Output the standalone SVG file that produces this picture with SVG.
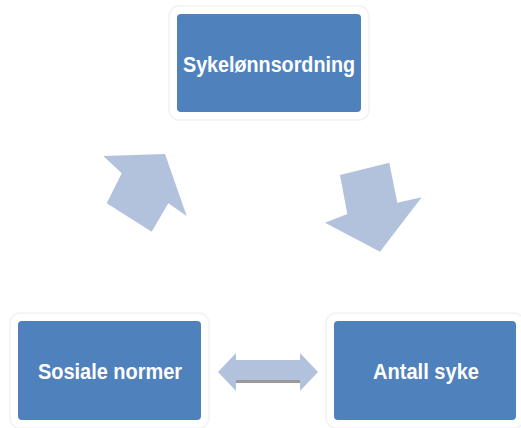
<svg xmlns="http://www.w3.org/2000/svg" width="521" height="428" viewBox="0 0 521 428">
<style>
.halo{fill:#ffffff;stroke:#f2f2f2;stroke-width:1.5}
.box{fill:#4f81bd}
.lbl{font-family:"Liberation Sans",Arial,sans-serif;font-weight:bold;font-size:22px;fill:#ffffff;text-anchor:middle}
.arr{fill:#b3c2dc}
</style>
<rect width="521" height="428" fill="#ffffff"/>
<g id="node-sykelonn">
<rect class="halo" x="169" y="6" width="200" height="114" rx="10"/>
<rect class="box" x="177" y="14" width="184" height="98" rx="4"/>
<text class="lbl" x="269" y="72" textLength="172" lengthAdjust="spacingAndGlyphs">Sykelønnsordning</text>
</g>
<g id="node-sosiale">
<rect class="halo" x="10" y="313" width="199" height="115" rx="10"/>
<rect class="box" x="18" y="321" width="183" height="99" rx="4"/>
<text class="lbl" x="110" y="379" textLength="144" lengthAdjust="spacingAndGlyphs">Sosiale normer</text>
</g>
<g id="node-antall">
<rect class="halo" x="326" y="313" width="198" height="115" rx="10"/>
<rect class="box" x="334" y="321" width="182" height="99" rx="4"/>
<text class="lbl" x="426" y="379" textLength="106" lengthAdjust="spacingAndGlyphs">Antall syke</text>
</g>
<g id="connectors">
<polygon class="arr" points="103.3,156 165,154 186.7,216 168.3,203.3 151.7,231.7 106.7,203.3 121.7,173.3"/>
<polygon class="arr" points="340,175 389.3,162.7 397.3,202.7 421.7,197.3 380,251.7 325,222.7 347.3,214"/>
<polygon class="arr" points="218,372 236,353 236,360 300,360 300,353 318,372 300,391 300,383 236,383 236,391"/>
<rect x="236" y="380" width="64" height="3" fill="#9a9a9a"/>
</g>
</svg>
